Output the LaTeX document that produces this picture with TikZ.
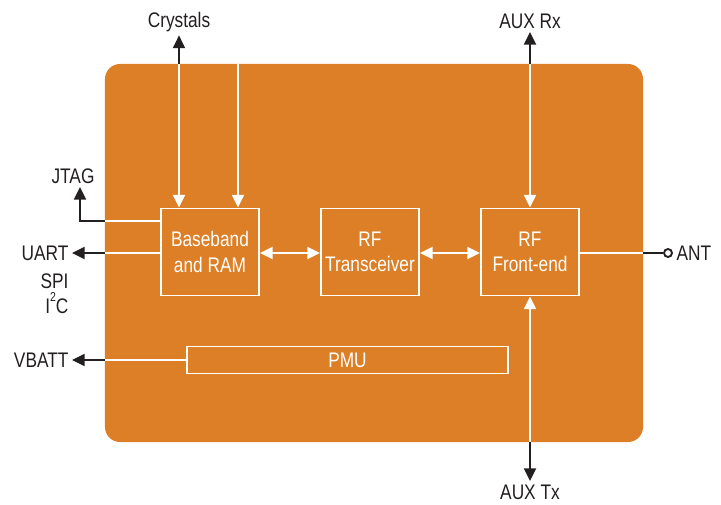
\documentclass[tikz,border=0pt]{standalone}
\usepackage{fontspec}
\setmainfont{Liberation Sans}[FakeStretch=0.82]
\usetikzlibrary{arrows.meta, positioning}
\definecolor{chiporange}{HTML}{DC7F27}
\definecolor{pintext}{HTML}{231F20}
\tikzset{
  chip/.style ={rectangle, rounded corners=0.45cm, fill=chiporange, minimum width=16.14cm, minimum height=11.34cm},
  blk/.style  ={rectangle, draw=white, line width=1.6pt, text=white, align=center, minimum width=2.94cm, minimum height=2.61cm, font=\fontsize{18}{21.5}\selectfont},
  bar/.style  ={blk, minimum width=9.63cm, minimum height=0.81cm},
  pinlbl/.style ={text=pintext, inner sep=0.1cm, font=\fontsize{18}{21.5}\selectfont},
  wl/.style   ={draw=white, line width=1.6pt},
  wa/.style   ={wl, -{Triangle[length=3.8mm, width=3.6mm]}},
  wa2/.style  ={wl, {Triangle[length=3.8mm, width=3.6mm]}-{Triangle[length=3.8mm, width=3.6mm]}},
  bl/.style   ={draw=pintext, line width=1.6pt},
  ba/.style   ={bl, -{Triangle[length=3.8mm, width=3.6mm]}},
}
\begin{document}
\begin{tikzpicture}[x=0.03cm, y=-0.03cm]
  \useasboundingbox (0,0) rectangle (721,505);
  \node[chip] (chip) at (374,253) {};
  \node[blk] (bb) at (210,252) {Baseband\\and RAM};
  \node[blk] (trx) at (370,252) {RF\\Transceiver};
  \node[blk] (fe) at (530,252) {RF\\Front-end};
  \node[bar] (pmu) at (347.5,360) {PMU};
  % pins
  \node[pinlbl] (xtal) at (179,22) {Crystals};
  \node[pinlbl] (auxrx) at (530,21) {AUX Rx};
  \node[pinlbl] (auxtx) at (530,492) {AUX Tx};
  \node[pinlbl] (jtag) at (73,176) {JTAG};
  \node[pinlbl, anchor=east] (uart) at (72,253) {UART};
  \node[pinlbl, anchor=east] (spi) at (72,281) {SPI};
  \node[pinlbl, anchor=east] (i2c) at (72,303) {I\raisebox{0.55em}{\fontsize{11}{11}\selectfont 2}C};
  \node[pinlbl, anchor=east] (vbatt) at (72,360) {VBATT};
  \node[circle, draw=pintext, line width=1.6pt, fill=white, minimum size=0.24cm, inner sep=0pt] (antc) at (668,253) {};
  \node[pinlbl, right=0cm of antc] (ant) {ANT};
  \coordinate (xt2) at (238,0);
  \coordinate (jt) at (80,221);
  % crystals
  \draw[ba] (chip.north -| xtal) -- (xtal);
  \draw[wa] (chip.north -| xtal) -- (bb.north -| xtal);
  \draw[wa] (chip.north -| xt2) -- (bb.north -| xt2);
  % jtag and serial
  \draw[ba] (chip.west |- jt) -| (jtag.south -| jt);
  \draw[wl] (chip.west |- jt) -- (bb.west |- jt);
  \draw[ba] (chip.west |- uart) -- (uart);
  \draw[wl] (chip.west |- uart) -- (bb.west |- uart);
  % rf chain
  \draw[wa2] (bb.east |- uart) -- (trx.west |- uart);
  \draw[wa2] (trx.east |- uart) -- (fe.west |- uart);
  \draw[ba] (chip.north -| fe) -- (auxrx);
  \draw[wa] (chip.north -| fe) -- (fe.north);
  \draw[ba] (chip.south -| fe) -- (auxtx);
  \draw[wa] (chip.south -| fe) -- (fe.south);
  \draw[wl] (fe.east |- antc) -- (chip.east |- antc);
  \draw[bl] (chip.east |- antc) -- (antc);
  % power
  \draw[wl] (pmu) -- (chip.west |- pmu);
  \draw[ba] (chip.west |- pmu) -- (vbatt);
\end{tikzpicture}
\end{document}
